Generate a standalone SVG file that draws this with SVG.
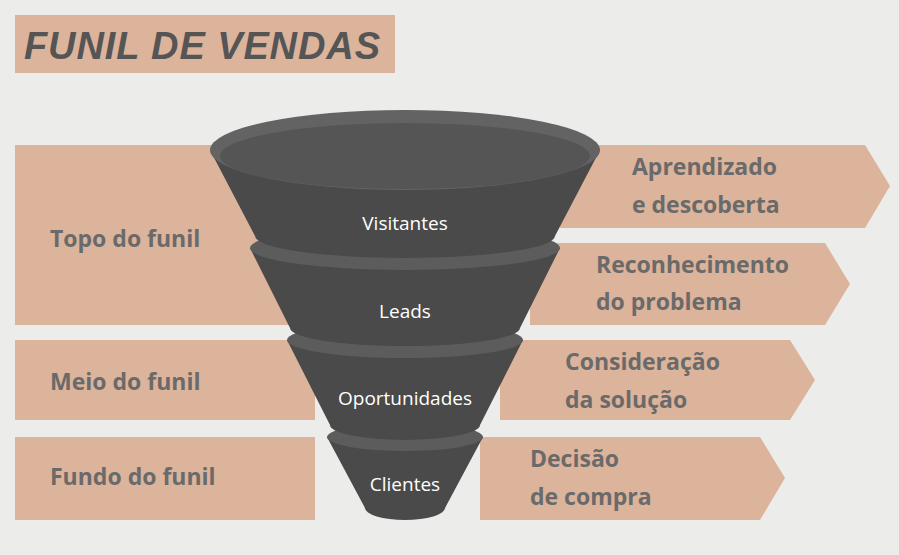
<svg xmlns="http://www.w3.org/2000/svg" width="899" height="555" viewBox="0 0 899 555">
<style>
.band{fill:#dcb39b}
.lbl{font-family:"Open Sans","Liberation Sans",sans-serif;font-weight:bold;font-size:23px;fill:#6a6a6a}
.seg{fill:#4a4a4a}
.rim{fill:#5c5c5c}
.ft{font-family:"Open Sans","Liberation Sans",sans-serif;font-size:19px;fill:#fff;text-anchor:middle}
</style>
<rect width="899" height="555" fill="#ececeb"/>
<g id="title"><rect x="15" y="15" width="380" height="58" class="band"/>
<text x="24" y="59" font-family="Liberation Sans,sans-serif" font-weight="bold" font-style="italic" font-size="38" fill="#555" textLength="356">FUNIL DE VENDAS</text></g>
<g id="topo"><rect x="15" y="145" width="300" height="180" class="band"/><text x="50" y="247" class="lbl">Topo do funil</text></g>
<g id="meio"><rect x="15" y="340" width="300" height="80" class="band"/><text x="50" y="390" class="lbl">Meio do funil</text></g>
<g id="fundo"><rect x="15" y="437" width="300" height="83" class="band"/><text x="50" y="485" class="lbl">Fundo do funil</text></g>
<g id="a1"><polygon points="560,145 865,145 890,186 865,228 560,228" class="band"/><text x="632" y="175" class="lbl">Aprendizado</text><text x="632" y="213" class="lbl">e descoberta</text></g>
<g id="a2"><polygon points="530,243 825,243 850,284 825,325 530,325" class="band"/><text x="596" y="273" class="lbl">Reconhecimento</text><text x="596" y="310" class="lbl">do problema</text></g>
<g id="a3"><polygon points="500,340 790,340 815,380 790,420 500,420" class="band"/><text x="565" y="370" class="lbl">Consideração</text><text x="565" y="408" class="lbl">da solução</text></g>
<g id="a4"><polygon points="480,437 760,437 785,478 760,520 480,520" class="band"/><text x="530" y="467" class="lbl">Decisão</text><text x="530" y="505" class="lbl">de compra</text></g>
<g id="clientes"><path class="seg" d="M327,437 L365,508 A40,12 0 0 0 445,508 L483,437 Z"/><ellipse cx="405" cy="437" rx="78" ry="14" class="rim"/><text x="405" y="491" class="ft">Clientes</text></g>
<g id="oportunidades"><path class="seg" d="M287,340 L330,425 A75,15 0 0 0 480,425 L523,340 Z"/><ellipse cx="405" cy="340" rx="118" ry="18" class="rim"/><text x="405" y="405" class="ft">Oportunidades</text></g>
<g id="leads"><path class="seg" d="M250,248 L290,328 A115,18 0 0 0 520,328 L560,248 Z"/><ellipse cx="405" cy="248" rx="155" ry="22" class="rim"/><text x="405" y="318" class="ft">Leads</text></g>
<g id="visitantes"><path class="seg" d="M210,150 L255,236 A150,22 0 0 0 555,236 L600,150 Z"/><ellipse cx="405" cy="150" rx="195" ry="40" fill="#636363"/><ellipse cx="405" cy="156" rx="185" ry="33" fill="#555"/><text x="405" y="230" class="ft">Visitantes</text></g>
<g id="connectors"/>
</svg>
